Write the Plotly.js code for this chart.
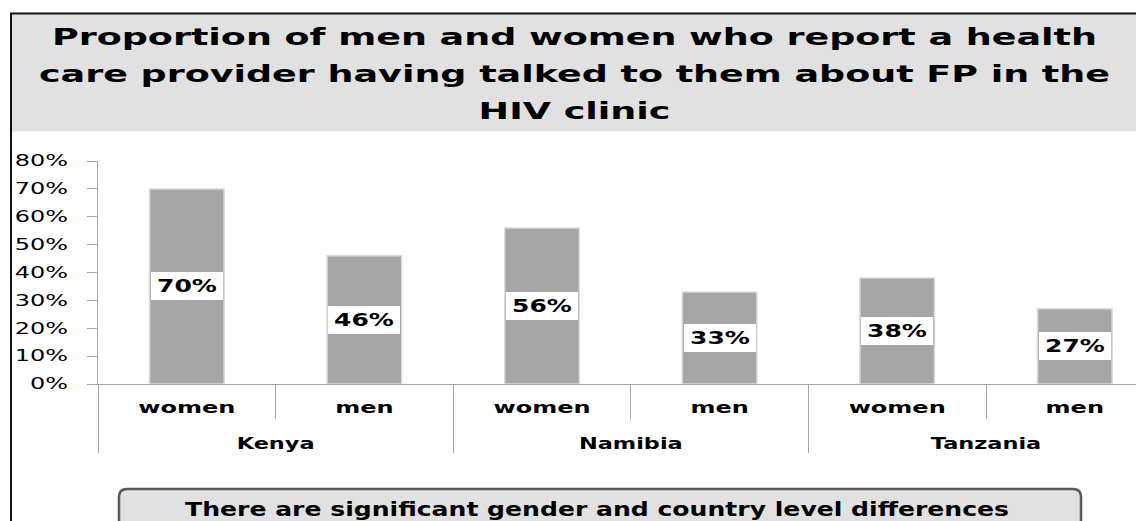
<!DOCTYPE html>
<html><head><meta charset="utf-8">
<script src="https://cdn.plot.ly/plotly-3.0.1.min.js"></script>
<style>html,body{margin:0;padding:0;background:#fff;overflow:hidden} #chart{width:1136px;height:521px;}</style>
</head><body><div id="chart"></div>
<script>
// ---- data ----
const countries = ['Kenya', 'Kenya', 'Namibia', 'Namibia', 'Tanzania', 'Tanzania'];
const genders = ['women', 'men', 'women', 'men', 'women', 'men'];
const shares = [0.70, 0.46, 0.56, 0.33, 0.38, 0.27];
const yTickVals = [0, 0.1, 0.2, 0.3, 0.4, 0.5, 0.6, 0.7, 0.8];
const yTickText = ['0%', '10%', '20%', '30%', '40%', '50%', '60%', '70%', '80%'];
const titleLines = ['Proportion of men and women who report a health',
                    'care provider having talked to them about FP in the',
                    'HIV clinic'];
const noteText = 'There are significant gender and country level differences';

// ---- geometry helpers (layout only) ----
const W = 1136, H = 521, ML = 98, MR = 0, MT = 161, MB = 137;
const PW = W - ML - MR, PH = H - MT - MB;
const px = x => (x - ML) / PW;
const py = y => (H - MB - y) / PH;
const FONT = 'DejaVu Sans';
const GROUP_SHIFT = 24;   // extra drop of the country level labels (px)

const bars = {
  type: 'bar',
  x: [countries, genders],
  y: shares,
  width: 0.42,
  marker: {color: '#a6a6a6', line: {color: '#dadada', width: 1.5}},
  hoverinfo: 'skip',
  showlegend: false
};

const annotations = shares.map((v, i) => ({
  xref: 'x', yref: 'y', x: i, y: v / 2,
  text: Math.round(v * 100) + '%',
  showarrow: false, xanchor: 'center', yanchor: 'middle',
  bgcolor: '#ffffff', borderpad: 0, borderwidth: 0,
  width: 72, height: 28,
  font: {family: FONT, size: 17, weight: 'bold', color: '#000'}
}));
annotations.push({
  xref: 'paper', yref: 'paper', x: px(597), y: py(509),
  text: noteText, showarrow: false, xanchor: 'center', yanchor: 'middle',
  font: {family: FONT, size: 19, weight: 'bold', color: '#000'}
});

const rx = 8 / PW, ry = 8 / PH;
const bx0 = px(119), bx1 = px(1081), byt = py(489), byb = py(530);
const notePath = `M ${bx0},${byb} L ${bx0},${byt - ry} Q ${bx0},${byt} ${bx0 + rx},${byt} ` +
                 `L ${bx1 - rx},${byt} Q ${bx1},${byt} ${bx1},${byt - ry} L ${bx1},${byb} Z`;

const shapes = [
  {type: 'rect', xref: 'paper', yref: 'paper', x0: px(11), x1: px(1140), y0: py(131.5), y1: py(14.5),
   fillcolor: '#e1e1e1', line: {width: 0}, layer: 'below'},
  {type: 'line', xref: 'paper', yref: 'paper', x0: px(10), x1: px(1140), y0: py(13.5), y1: py(13.5),
   line: {color: '#111111', width: 2}},
  {type: 'line', xref: 'paper', yref: 'paper', x0: px(11), x1: px(11), y0: py(13), y1: py(530),
   line: {color: '#111111', width: 2}},
  {type: 'path', xref: 'paper', yref: 'paper', path: notePath,
   fillcolor: '#e1e1e1', line: {color: '#5a5a5a', width: 2.5}}
];

const layout = {
  width: W, height: H,
  margin: {l: ML, r: MR, t: MT, b: MB, pad: 0},
  paper_bgcolor: '#ffffff', plot_bgcolor: '#ffffff',
  title: {
    text: titleLines.join('<br>'),
    font: {family: FONT, size: 23, weight: 'bold', color: '#000'},
    xref: 'paper', x: px(574.5), xanchor: 'center',
    yref: 'container', y: 1 - 45 / H, yanchor: 'top'
  },
  xaxis: {
    type: 'multicategory',
    range: [-0.5, -0.5 + (W - ML - MR) / 177.6],
    showline: true, linecolor: '#a6a6a6', linewidth: 1,
    ticks: 'outside', tickson: 'boundaries', ticklen: 34, tickcolor: '#a6a6a6', tickwidth: 1,
    ticklabelstandoff: 9,
    showdividers: true, dividercolor: '#a6a6a6', dividerwidth: 1,
    tickfont: {family: FONT, size: 16, weight: 'bold', color: '#000'},
    showgrid: false, zeroline: false, fixedrange: true
  },
  yaxis: {
    range: [0, 0.8], tickvals: yTickVals, ticktext: yTickText,
    showline: true, linecolor: '#a6a6a6', linewidth: 1,
    ticks: 'outside', ticklen: 10, tickcolor: '#a6a6a6', tickwidth: 1,
    ticklabelstandoff: 16,
    tickfont: {family: FONT, size: 15, color: '#000'},
    showgrid: false, zeroline: false, fixedrange: true
  },
  annotations: annotations,
  shapes: shapes,
  bargap: 0.58
};

function stretchEl(el, factor, target) {
  const w = el.getComputedTextLength();
  if (!w) return;
  el.setAttribute('textLength', target ? target : w * factor);
  el.setAttribute('lengthAdjust', 'spacingAndGlyphs');
}
function finish() {
  const root = document.getElementById('chart');
  const t = root.querySelector('.gtitle');
  if (t) {
    const lines = t.querySelectorAll('tspan.line');
    if (lines.length) {
      const f = 1045 / lines[0].getComputedTextLength();
      lines.forEach((ln, i) => {
        ln.setAttribute('dy', (i * 1.6) + 'em');
        stretchEl(ln, f);
      });
    } else {
      stretchEl(t, 1.58);
    }
  }
  root.querySelectorAll('.ytick text').forEach(e => stretchEl(e, 1.6));
  root.querySelectorAll('.xtick text').forEach(e => stretchEl(e, 1.5));
  root.querySelectorAll('.xtick2 text').forEach(e => {
    stretchEl(e, 1.4);
    const tr = e.getAttribute('transform') || '';
    e.setAttribute('transform', tr + ' translate(0,' + GROUP_SHIFT + ')');
  });
  root.querySelectorAll('path.xdivider').forEach(p => {
    const d = p.getAttribute('d') || '';
    p.setAttribute('d', d.replace(/v(-?[\d.]+)/, (m, n) => {
      const v = parseFloat(n);
      return 'v' + (v + (v >= 0 ? 1 : -1) * (GROUP_SHIFT - 1));
    }));
  });
  root.querySelectorAll('.annotation').forEach(g => {
    const idx = +g.getAttribute('data-index');
    const txt = g.querySelector('.annotation-text');
    if (!txt) return;
    if (idx < shares.length) stretchEl(txt, 1.47);
    else stretchEl(txt, 1, 824);
  });
}

Plotly.newPlot('chart', [bars], layout, {staticPlot: true, displayModeBar: false})
  .then(finish);
</script>
</body></html>
